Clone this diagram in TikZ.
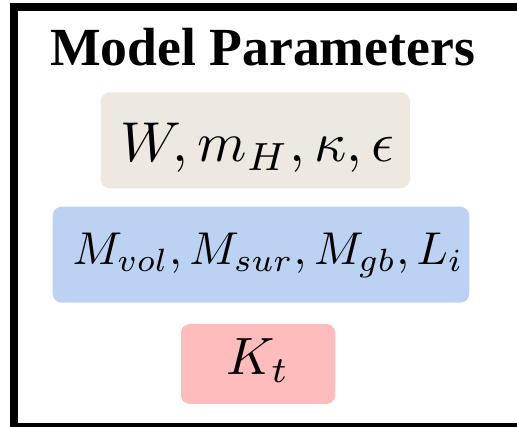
\documentclass[tikz,border=0pt]{standalone}
\usepackage{graphicx}
\usepackage{fontspec}
\setmainfont{Liberation Serif}
\definecolor{beigebox}{HTML}{EDE8E0}
\definecolor{bluebox}{HTML}{BCD2F2}
\definecolor{pinkbox}{HTML}{FFBCBC}
\tikzset{
  pbox/.style={rounded corners=9pt, draw=none},
  ptext/.style={inner sep=0pt, anchor=base, text=black},
}
\begin{document}
\begin{tikzpicture}[x=1pt,y=-1pt]
\useasboundingbox (0,0) rectangle (517,427);
\clip (0,0) rectangle (517,427);
\draw[line width=8pt] (13.8,7.3) rectangle (530,426.7);
\node[ptext, font=\bfseries\fontsize{53.7}{64}\selectfont] (title) at (262.5,66) {Model Parameters};
\fill[beigebox, pbox] (100.7,92.3) rectangle (410,188.3);
\fill[bluebox, pbox] (52.7,206.7) rectangle (469.3,302.7);
\fill[pinkbox, pbox] (181,324) rectangle (335.3,404);
\node[ptext] (p1) at (257.5,161.7) {\scalebox{5.62}{$W,m_H,\kappa,\epsilon$}};
\node[ptext] (p2) at (268,264.3) {\scalebox{4.6}{$M_{vol},M_{sur},M_{gb},L_i$}};
\node[ptext] (p3) at (258,375) {\scalebox{5.25}{$K_t$}};
\end{tikzpicture}
\end{document}
